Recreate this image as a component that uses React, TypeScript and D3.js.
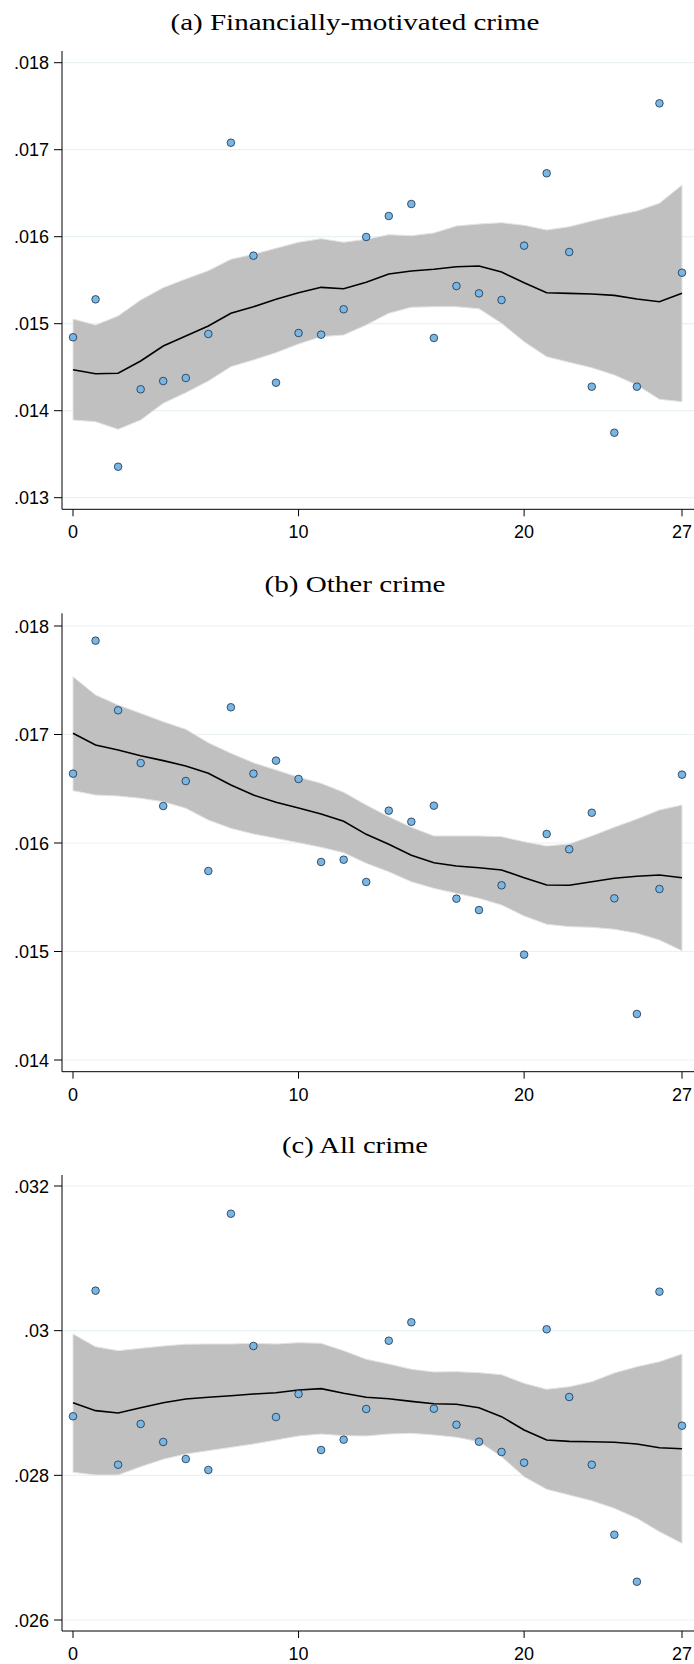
import React from "react";
import * as d3 from "d3";

const months = [0,1,2,3,4,5,6,7,8,9,10,11,12,13,14,15,16,17,18,19,20,21,22,23,24,25,26,27];
const xTicks = [0, 10, 20, 27];

// (a) Financially-motivated crime
const finPoints = [0.014844,0.01528,0.013356,0.014246,0.014341,0.014376,0.014882,0.01708,0.015782,0.014322,0.014893,0.014874,0.015166,0.015997,0.016238,0.016376,0.014836,0.015433,0.015349,0.015272,0.015897,0.016729,0.015824,0.014276,0.013747,0.014276,0.017533,0.015586];
const finFit = [0.014471,0.014425,0.01443,0.014571,0.014744,0.014859,0.014974,0.01512,0.015195,0.01528,0.015356,0.015418,0.015402,0.015476,0.015571,0.015606,0.015625,0.015655,0.015663,0.015594,0.015471,0.015356,0.015349,0.015341,0.015326,0.015284,0.015253,0.015349];
const finHi = [0.015054,0.014985,0.015089,0.015272,0.015414,0.015514,0.015609,0.01574,0.015798,0.015867,0.015936,0.015977,0.015936,0.01597,0.016023,0.016011,0.016043,0.016123,0.016146,0.016161,0.016131,0.016077,0.016115,0.01618,0.016241,0.016295,0.016384,0.016594];
const finLo = [0.013893,0.013874,0.013786,0.013893,0.014085,0.014207,0.014341,0.014506,0.014583,0.014667,0.014767,0.014851,0.01487,0.014985,0.01512,0.015189,0.015195,0.015195,0.015172,0.015005,0.014793,0.014621,0.014556,0.014494,0.01441,0.014295,0.014131,0.014103];
const finTicks = [0.013, 0.014, 0.015, 0.016, 0.017, 0.018];

// (b) Other crime
const othPoints = [0.016639,0.017865,0.017223,0.016737,0.016341,0.016571,0.015742,0.017251,0.016639,0.016759,0.01659,0.015825,0.015846,0.015641,0.016298,0.016196,0.016344,0.015487,0.015382,0.01561,0.014971,0.016083,0.015942,0.016279,0.01549,0.014424,0.015576,0.01663];
const othFit = [0.017011,0.016903,0.016857,0.016805,0.016759,0.01671,0.016642,0.016535,0.016442,0.016375,0.016323,0.016267,0.0162,0.01608,0.015988,0.015887,0.015818,0.015788,0.015772,0.015751,0.01568,0.015613,0.01561,0.015643,0.015675,0.015693,0.015705,0.01568];
const othHi = [0.017533,0.017364,0.017272,0.017195,0.017118,0.017048,0.016924,0.016827,0.01674,0.016673,0.016606,0.01655,0.016467,0.01635,0.016242,0.016145,0.016065,0.016065,0.016065,0.016058,0.016012,0.015972,0.015991,0.016065,0.016145,0.016221,0.016304,0.01635];
const othLo = [0.016482,0.016442,0.016433,0.016412,0.016381,0.01632,0.016212,0.016135,0.016083,0.016043,0.016003,0.01596,0.015911,0.015813,0.015735,0.015643,0.015582,0.015536,0.01549,0.015429,0.015327,0.015251,0.015229,0.015223,0.015205,0.015168,0.015106,0.015007];
const othTicks = [0.014, 0.015, 0.016, 0.017, 0.018];

// (c) All crime
const allPoints = [0.028816,0.030553,0.028147,0.02871,0.028461,0.028226,0.028074,0.031617,0.029788,0.028806,0.029124,0.02835,0.028493,0.028917,0.029861,0.030116,0.028921,0.0287,0.028465,0.028323,0.028175,0.030019,0.029083,0.028147,0.027179,0.026529,0.030539,0.028686];
const allFit = [0.029004,0.028894,0.028862,0.028935,0.029004,0.029055,0.029079,0.029101,0.029124,0.029142,0.02918,0.029198,0.029134,0.029079,0.029059,0.029023,0.02899,0.028982,0.028935,0.028811,0.028627,0.028488,0.02847,0.028465,0.028457,0.028433,0.028382,0.028368];
const allHi = [0.029954,0.029778,0.029723,0.029756,0.029788,0.029812,0.029816,0.029816,0.029825,0.029816,0.029834,0.029825,0.029723,0.029604,0.029539,0.029466,0.029429,0.029433,0.029419,0.029391,0.029272,0.029189,0.029225,0.029294,0.029415,0.029502,0.029571,0.029677];
const allLo = [0.028042,0.028005,0.028005,0.028119,0.028222,0.028295,0.028341,0.028387,0.028433,0.028488,0.028544,0.028571,0.028548,0.028544,0.028571,0.028581,0.028558,0.028526,0.028465,0.028258,0.027981,0.027807,0.027728,0.027649,0.027544,0.027406,0.027221,0.02706];
const allTicks = [0.026, 0.028, 0.03, 0.032];

const fmt = (v: number) => {
  const s = d3.format("")(+v.toFixed(4));
  return s.replace(/^0/, "");
};

type PanelProps = {
  title: string; titleWidth: number; titleY: number;
  axisTop: number; axisBottom: number; yMin: number; yMax: number; yMinPx: number; yMaxPx: number;
  points: number[]; fit: number[]; lo: number[]; hi: number[]; ticks: number[];
};

const AXIS_X = 62;
const RIGHT = 694;
const x = d3.scaleLinear().domain([0, 27]).range([73, 682]);

function Panel(p: PanelProps) {
  const y = d3.scaleLinear().domain([p.yMin, p.yMax]).range([p.yMinPx, p.yMaxPx]);
  const area = d3.area<number>().x((d) => x(d)).y0((d) => y(p.lo[d])).y1((d) => y(p.hi[d]));
  const line = d3.line<number>().x((d) => x(d)).y((d) => y(p.fit[d]));
  return (
    <g>
      <text x={355} y={p.titleY} textAnchor="middle" fontFamily="'Liberation Serif', serif" fontSize={24}
        textLength={p.titleWidth} lengthAdjust="spacingAndGlyphs" fill="#000">{p.title}</text>
      {p.ticks.map((t) => (
        <line key={"g" + t} x1={AXIS_X} x2={RIGHT} y1={y(t)} y2={y(t)} stroke="#eaf1f3" strokeWidth={1.2} />
      ))}
      <path d={area(months) || ""} fill="#c0c0c0" stroke="#e4e4e4" strokeWidth={1} />
      <path d={line(months) || ""} fill="none" stroke="#000" strokeWidth={1.6} />
      {months.map((m) => (
        <circle key={"p" + m} cx={x(m)} cy={y(p.points[m])} r={3.8} fill="#7ab6e2" stroke="#1b2f4a" strokeWidth={0.8} />
      ))}
      <line x1={AXIS_X} x2={AXIS_X} y1={p.axisTop} y2={p.axisBottom} stroke="#000" strokeWidth={1} />
      <line x1={AXIS_X} x2={RIGHT} y1={p.axisBottom} y2={p.axisBottom} stroke="#000" strokeWidth={1} />
      {p.ticks.map((t) => (
        <g key={"t" + t}>
          <line x1={AXIS_X - 8} x2={AXIS_X} y1={y(t)} y2={y(t)} stroke="#000" strokeWidth={1} />
          <text x={49} y={y(t) + 6.5} textAnchor="end" fontFamily="'Liberation Sans', Arial, sans-serif" fontSize={18} fill="#000">{fmt(t)}</text>
        </g>
      ))}
      {xTicks.map((t) => (
        <g key={"x" + t}>
          <line x1={x(t)} x2={x(t)} y1={p.axisBottom} y2={p.axisBottom + 7} stroke="#000" strokeWidth={1} />
          <text x={x(t)} y={p.axisBottom + 29} textAnchor="middle" fontFamily="'Liberation Sans', Arial, sans-serif" fontSize={18} fill="#000">{t}</text>
        </g>
      ))}
    </g>
  );
}

export default function App() {
  return (
    <svg width={694} height={1664} style={{ position: "absolute", left: 0, top: 0, background: "#fff" }}>
      <rect width={694} height={1664} fill="#fff" />
      <Panel title="(a) Financially-motivated crime" titleWidth={369} titleY={29.5}
        axisTop={51} axisBottom={509.3} yMin={0.013} yMax={0.018} yMinPx={497.7} yMaxPx={62.7}
        points={finPoints} fit={finFit} lo={finLo} hi={finHi} ticks={finTicks} />
      <Panel title="(b) Other crime" titleWidth={181} titleY={591.7}
        axisTop={613.3} axisBottom={1071.7} yMin={0.014} yMax={0.018} yMinPx={1060} yMaxPx={626}
        points={othPoints} fit={othFit} lo={othLo} hi={othHi} ticks={othTicks} />
      <Panel title="(c) All crime" titleWidth={146} titleY={1152.7}
        axisTop={1175} axisBottom={1631} yMin={0.026} yMax={0.032} yMinPx={1620} yMaxPx={1186}
        points={allPoints} fit={allFit} lo={allLo} hi={allHi} ticks={allTicks} />
    </svg>
  );
}
